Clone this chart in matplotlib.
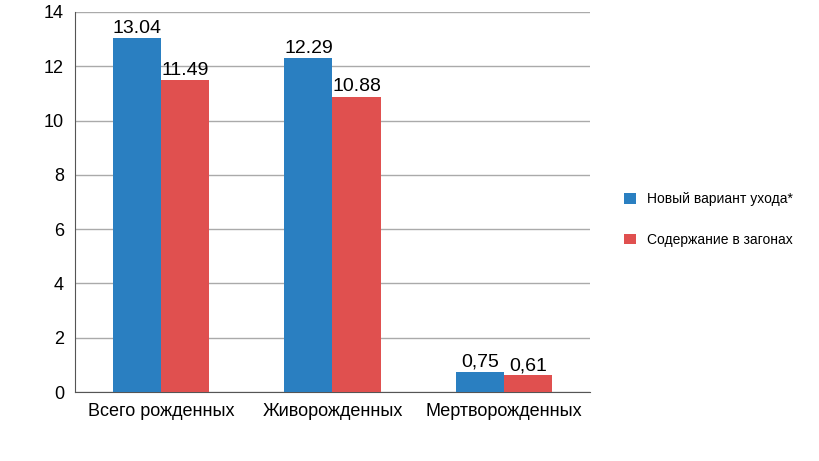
import matplotlib.pyplot as plt
import numpy as np

categories = ["Всего рожденных", "Живорожденных", "Мертворожденных"]
new_care = [13.04, 12.29, 0.75]
pens = [11.49, 10.88, 0.61]
new_labels = ["13.04", "12.29", "0,75"]
pens_labels = ["11.49", "10.88", "0,61"]
series_names = ["Новый вариант ухода*", "Содержание в загонах"]

plt.rcParams['font.family'] = ['Liberation Sans', 'DejaVu Sans']

fig = plt.figure(figsize=(8.2, 4.61), dpi=100)
ax = fig.add_axes([75/820, 1-392/461, 515/820, 380/461])

x = np.arange(len(categories))
w = 0.28
b1 = ax.bar(x - w/2, new_care, w, color="#2a7fc1", label=series_names[0], zorder=3)
b2 = ax.bar(x + w/2, pens, w, color="#e0504f", label=series_names[1], zorder=3)
ax.bar_label(b1, labels=new_labels, fontsize=14, padding=1)
ax.bar_label(b2, labels=pens_labels, fontsize=14, padding=1)

ax.set_xlim(-0.5, 2.5)
ax.set_ylim(0, 14)
ax.set_yticks(range(0, 15, 2))
ax.set_xticks(x)
ax.set_xticklabels(categories, fontsize=13)
ax.tick_params(axis='y', labelsize=13, length=0, pad=8)
ax.tick_params(axis='x', length=0, pad=8)
ax.grid(axis='y', color="#aaaaaa", linewidth=1, zorder=0)
for s in ["top", "right"]:
    ax.spines[s].set_visible(False)
for s in ["left", "bottom"]:
    ax.spines[s].set_color("#555555")

fig.legend(loc="upper left", bbox_to_anchor=(612/820, 1-180/461), frameon=False,
           fontsize=10, handlelength=0.8, handleheight=0.8, labelspacing=1.9)

fig.savefig("out.png", dpi=100)
